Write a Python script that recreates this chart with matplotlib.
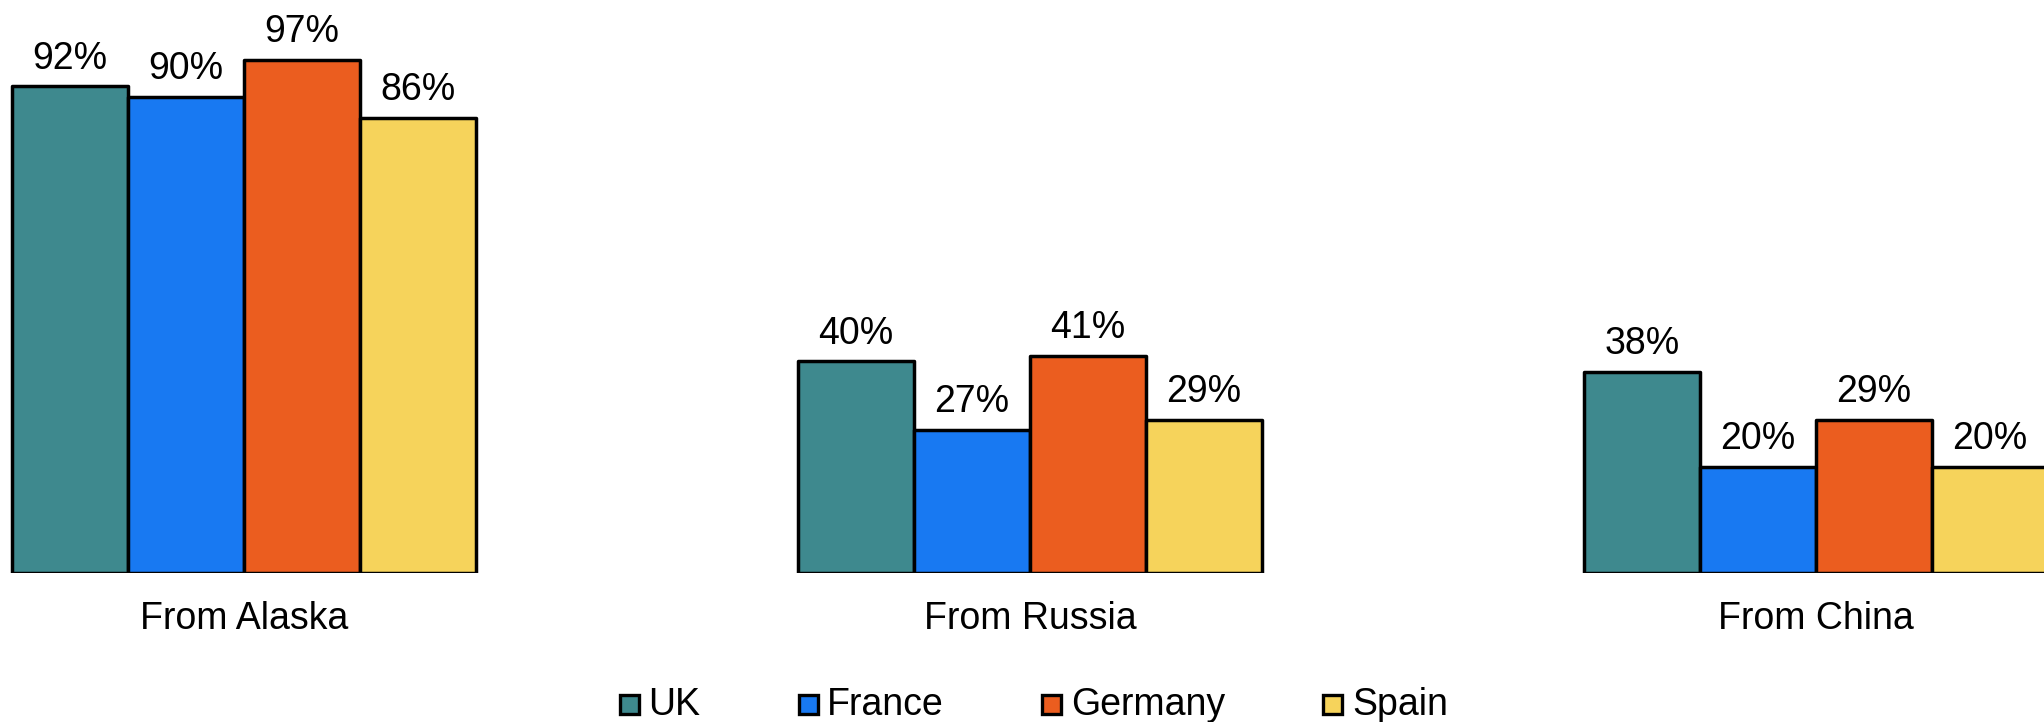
import matplotlib
matplotlib.use("Agg")
import matplotlib.pyplot as plt
import numpy as np
from matplotlib.patches import Rectangle

# ---- data ----
categories = ["From Alaska", "From Russia", "From China"]
series_names = ["UK", "France", "Germany", "Spain"]
uk = [92, 40, 38]
france = [90, 27, 20]
germany = [97, 41, 29]
spain = [86, 29, 20]
series_values = [uk, france, germany, spain]
colors = ["#3E898E", "#1879F2", "#EB5D1F", "#F6D35B"]

plt.rcParams['font.family'] = ['Liberation Sans', 'DejaVu Sans']

W, H = 2044, 722
fig = plt.figure(figsize=(W / 100, H / 100), dpi=100)

base_px = 573     # baseline from top
top_px = 44       # y=100 from top
ax = fig.add_axes([0, (H - base_px) / H, 1, (base_px - top_px) / H])
ax.set_ylim(0, 100)
ax.set_xlim(-0.3104, 2.2901)
for s in ax.spines.values():
    s.set_visible(False)
ax.set_yticks([])

x = np.arange(len(categories))
w = 116 / 786
for i, (name, vals, col) in enumerate(zip(series_names, series_values, colors)):
    bars = ax.bar(x + (i - 1.5) * w, vals, width=w, color=col, edgecolor='black',
                  linewidth=2.5, label=name, joinstyle='round')
    ax.bar_label(bars, labels=[f"{v}%" for v in vals], padding=7.0,
                 fontsize=27, color='black')

ax.set_xticks(x)
ax.set_xticklabels(categories, fontsize=27)
ax.tick_params(axis='x', length=0, pad=20.5)

# ---- legend (manual row below the chart) ----
renderer = fig.canvas.get_renderer()
xpos = 618
for name, col in zip(series_names, colors):
    fig.patches.append(Rectangle(((xpos + 1.5) / W, (H - 715 + 1.5) / H), 19 / W, 19 / H,
                                 transform=fig.transFigure, facecolor=col,
                                 edgecolor='black', linewidth=2.4, figure=fig))
    tx = xpos + 30
    t = fig.text(tx / W, (H - 715) / H, name, fontsize=27, ha='left', va='baseline')
    tw = t.get_window_extent(renderer).width
    xpos = tx + tw + 97

fig.savefig("out.png", dpi=100)
